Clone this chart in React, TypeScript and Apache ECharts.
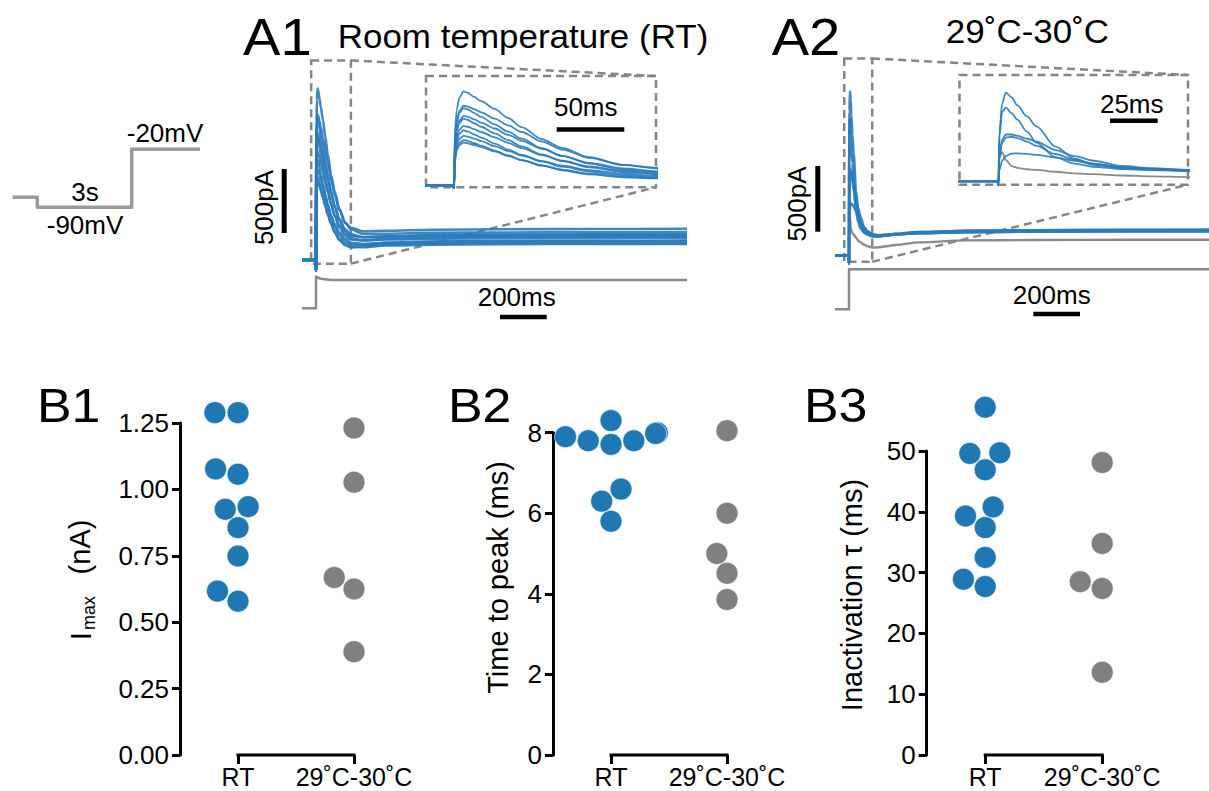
import React, { useEffect, useRef } from "react";
import * as echarts from "echarts";

// ------------------------- DATA -------------------------
const groups = ["RT", "29˚C-30˚C"];

// B panels (one value per cell)
const imaxRT = [1.289, 1.289, 1.077, 1.057, 0.925, 0.935, 0.856, 0.749, 0.617, 0.579];
const imaxWarm = [1.231, 1.027, 0.668, 0.625, 0.389];
const ttpRT = [7.9, 7.8, 8.3, 7.71, 7.8, 8.0, 7.98, 6.6, 6.3, 5.8];
const ttpWarm = [8.05, 6.0, 5.0, 4.51, 3.86];
const tauRT = [57.2, 49.6, 49.7, 46.9, 40.8, 39.3, 37.4, 32.5, 28.9, 27.7];
const tauWarm = [48.1, 34.8, 28.5, 27.4, 13.6];

// Current traces (pA) sampled at these times (ms, step onset = 0)
const traceTimeMs = [-60, -0.5, 0, 0.6, 2, 4, 7, 10, 15, 20, 30, 40, 50, 65, 80, 100, 125, 150, 200, 300, 500, 800, 1200, 1600];

const rtTraces = [
  [0, 0, -80, 740, 1080, 1250, 1340, 1320, 1260, 1200, 1090, 960, 830, 660, 535, 400, 290, 252, 225, 228, 236, 240, 242, 244],
  [0, 0, -80, 620, 920, 1060, 1135, 1125, 1085, 1040, 950, 855, 760, 625, 510, 390, 290, 240, 205, 205, 212, 215, 216, 218],
  [0, 0, -80, 600, 890, 1030, 1100, 1085, 1030, 975, 870, 765, 665, 530, 420, 310, 225, 190, 178, 185, 195, 198, 200, 200],
  [0, 0, -80, 540, 800, 925, 990, 980, 940, 895, 810, 720, 635, 520, 420, 320, 240, 200, 180, 182, 188, 190, 192, 192],
  [0, 0, -80, 520, 770, 890, 950, 935, 885, 835, 740, 645, 555, 440, 345, 255, 190, 160, 152, 165, 175, 180, 182, 182],
  [0, 0, -80, 470, 690, 795, 845, 835, 800, 760, 685, 605, 530, 430, 350, 270, 205, 170, 155, 160, 166, 170, 171, 172],
  [0, 0, -80, 430, 640, 740, 785, 770, 725, 680, 595, 510, 435, 340, 265, 195, 145, 120, 118, 135, 145, 150, 150, 152],
  [0, 0, -80, 390, 575, 665, 705, 695, 665, 630, 560, 490, 425, 345, 280, 215, 165, 135, 125, 135, 142, 145, 146, 146],
  [0, 0, -80, 360, 525, 605, 645, 635, 600, 565, 495, 425, 360, 280, 215, 155, 115, 100, 105, 120, 128, 130, 131, 131],
  [0, 0, -80, 340, 500, 575, 610, 600, 575, 545, 485, 420, 360, 285, 225, 165, 125, 102, 100, 113, 120, 124, 125, 126],
];

const warmTraces = [
  [0, 0, -60, 700, 1100, 1250, 1185, 1070, 915, 775, 490, 320, 232, 183, 165, 150, 150, 155, 165, 178, 188, 192, 195, 195],
  [0, 0, -60, 640, 980, 1040, 960, 870, 700, 545, 338, 250, 205, 172, 158, 145, 145, 150, 160, 172, 182, 186, 188, 188],
  [0, 0, -60, 380, 590, 660, 660, 640, 600, 560, 441, 355, 290, 216, 185, 160, 152, 155, 165, 178, 188, 192, 194, 195],
  [0, 0, -60, 340, 540, 615, 628, 610, 560, 500, 385, 305, 250, 197, 172, 150, 145, 150, 160, 170, 178, 182, 184, 184],
  [0, 0, -60, 160, 290, 360, 390, 395, 388, 372, 338, 290, 245, 197, 178, 162, 155, 157, 162, 170, 178, 182, 183, 184],
];
const warmGrayTrace = [0, 0, -60, 330, 415, 300, 215, 190, 170, 160, 135, 112, 100, 82, 70, 60, 62, 68, 80, 100, 115, 118, 120, 120];

// Voltage commands under the traces
const cmdTimeRT = [-60, 0, 0, 20, 65, 1600];
const cmdMvRT = [-90, -90, -12, -17, -20, -20];
const cmdTimeWarm = [-60, 0, 0, 1600];
const cmdMvWarm = [-90, -90, -20, -20];

// Protocol sketch (s, mV)
const protocolTimeS = [-0.78, 0, 0, 3, 3, 5.17];
const protocolMv = [-78, -78, -90, -90, -20, -20];

// ------------------------- STYLE / LAYOUT -------------------------
const FONT = "'Liberation Sans', Arial, Helvetica, sans-serif";
const DOT_BLUE = "#1f77b4";
const DOT_GRAY = "#808080";
const TRACE_BLUE = "#2a7bbb";
const TRACE_GRAY = "#8a8a8a";
const DASH = "#858585";

interface Geom { left: number; top: number; width: number; height: number; xMin: number; xMax: number; yMin: number; yMax: number; }

function traceGeom(o: { left: number; right: number; stepX: number; pxPerX: number; zeroY: number; pxPerY: number; yLo: number; yHi: number }): Geom {
  return {
    left: o.left, width: o.right - o.left,
    top: o.zeroY - o.yHi * o.pxPerY, height: (o.yHi - o.yLo) * o.pxPerY,
    xMin: (o.left - o.stepX) / o.pxPerX, xMax: (o.right - o.stepX) / o.pxPerX,
    yMin: o.yLo, yMax: o.yHi,
  };
}
function insetGeom(o: { left: number; top: number; right: number; bottom: number; stepX: number; pxPerX: number; zeroY: number; pxPerY: number }): Geom {
  return {
    left: o.left, top: o.top, width: o.right - o.left, height: o.bottom - o.top,
    xMin: (o.left - o.stepX) / o.pxPerX, xMax: (o.right - o.stepX) / o.pxPerX,
    yMin: (o.zeroY - o.bottom) / o.pxPerY, yMax: (o.zeroY - o.top) / o.pxPerY,
  };
}
function toPx(g: Geom, x: number, y: number): [number, number] {
  return [g.left + ((x - g.xMin) / (g.xMax - g.xMin)) * g.width, g.top + ((g.yMax - y) / (g.yMax - g.yMin)) * g.height];
}

const A1_PX_MS = 0.2335, A1_PX_PA = 0.128;
const A2_PX_MS = 0.2335, A2_PX_PA = 0.1314;
const A1_IN_PX_MS = 1.352, A2_IN_PX_MS = 1.907;

const gA1 = traceGeom({ left: 303, right: 685, stepX: 316, pxPerX: A1_PX_MS, zeroY: 260, pxPerY: A1_PX_PA, yLo: -120, yHi: 1450 });
const gA1in = insetGeom({ left: 426, top: 76, right: 656, bottom: 187.3, stepX: 454, pxPerX: A1_IN_PX_MS, zeroY: 185.3, pxPerY: 0.0701 });
const gA1cmd = traceGeom({ left: 303, right: 685, stepX: 316, pxPerX: A1_PX_MS, zeroY: 271.9, pxPerY: 0.404, yLo: -95, yHi: -8 });
const gA2 = traceGeom({ left: 836.7, right: 1209, stepX: 849, pxPerX: A2_PX_MS, zeroY: 255.5, pxPerY: A2_PX_PA, yLo: -120, yHi: 1450 });
const gA2in = insetGeom({ left: 959.5, top: 75, right: 1188, bottom: 184.7, stepX: 998.3, pxPerX: A2_IN_PX_MS, zeroY: 181.3, pxPerY: 0.0709 });
const gA2cmd = traceGeom({ left: 836.7, right: 1209, stepX: 849, pxPerX: A2_PX_MS, zeroY: 257.9, pxPerY: 0.5714, yLo: -95, yHi: -15 });
const gProto = traceGeom({ left: 12.7, right: 200, stepX: 37.3, pxPerX: 31.47, zeroY: 132.7, pxPerY: 0.8286, yLo: -95, yHi: -15 });

interface BPanel { left: number; top: number; width: number; height: number; yMax: number; interval: number; decimals: number; rt: number[]; warm: number[]; }
const bPanels: BPanel[] = [
  { left: 180, top: 423, width: 232, height: 332, yMax: 1.25, interval: 0.25, decimals: 2, rt: imaxRT, warm: imaxWarm },
  { left: 553, top: 432.7, width: 232, height: 322.3, yMax: 8, interval: 2, decimals: 0, rt: ttpRT, warm: ttpWarm },
  { left: 926.7, top: 451, width: 234, height: 304, yMax: 50, interval: 10, decimals: 0, rt: tauRT, warm: tauWarm },
];
const DOT = 22;

// seaborn-like beeswarm, in pixels; returns offsets (px)
function beeswarm(values: number[], pxPerUnit: number, d: number): number[] {
  const order = values.map((_, i) => i).sort((a, b) => values[a] - values[b]);
  const placed: { x: number; y: number }[] = [];
  const out = new Array(values.length).fill(0);
  for (const i of order) {
    const y = values[i] * pxPerUnit;
    const neighbors = placed.filter((p) => y - p.y < d);
    const cands: number[] = [0];
    let leftFirst = true;
    for (const n of neighbors) {
      const dy = y - n.y;
      const dx = Math.sqrt(Math.max(d * d - dy * dy, 0)) * 1.05;
      if (leftFirst) cands.push(n.x - dx, n.x + dx);
      else cands.push(n.x + dx, n.x - dx);
      leftFirst = !leftFirst;
    }
    const sorted = cands.map((c, k) => ({ c, k })).sort((a, b) => Math.abs(a.c) - Math.abs(b.c) || a.k - b.k);
    let chosen = sorted[sorted.length - 1].c;
    for (const { c } of sorted) {
      if (neighbors.every((n) => (c - n.x) ** 2 + (y - n.y) ** 2 >= d * d - 1e-6)) { chosen = c; break; }
    }
    placed.push({ x: chosen, y });
    out[i] = chosen;
  }
  return out;
}

function buildOption() {
  const grid: any[] = [];
  const xAxis: any[] = [];
  const yAxis: any[] = [];
  const series: any[] = [];

  const addTraceGrid = (g: Geom) => {
    const idx = grid.length;
    grid.push({ left: g.left, top: g.top, width: g.width, height: g.height, containLabel: false, outerBoundsMode: "none" });
    xAxis.push({ gridIndex: idx, type: "value", min: g.xMin, max: g.xMax, show: false });
    yAxis.push({ gridIndex: idx, type: "value", min: g.yMin, max: g.yMax, show: false });
    return idx;
  };
  const addLine = (idx: number, xs: number[], ys: number[], color: string, width: number, opacity = 1, smooth: number | boolean = false) => {
    series.push({
      type: "line", xAxisIndex: idx, yAxisIndex: idx, silent: true,
      data: xs.map((x, k) => [x, ys[k]]), symbol: "none", showSymbol: false,
      smooth, smoothMonotone: "x", clip: true, z: 2,
      lineStyle: { color, width, opacity, cap: "butt", join: "round" },
    });
  };

  // protocol
  const iP = addTraceGrid(gProto);
  addLine(iP, protocolTimeS, protocolMv, "#9a9a9a", 3.5);

  // A1
  const iA1 = addTraceGrid(gA1);
  rtTraces.forEach((tr) => addLine(iA1, traceTimeMs, tr, TRACE_BLUE, 2.6, 0.9, 0.3));
  const iA1c = addTraceGrid(gA1cmd);
  addLine(iA1c, cmdTimeRT, cmdMvRT, TRACE_GRAY, 2.5);
  const iA1i = addTraceGrid(gA1in);
  rtTraces.forEach((tr) => addLine(iA1i, traceTimeMs, tr, TRACE_BLUE, 1.8, 0.9, 0.3));

  // A2
  const iA2 = addTraceGrid(gA2);
  addLine(iA2, traceTimeMs, warmGrayTrace, TRACE_GRAY, 2.4, 1, 0.3);
  warmTraces.forEach((tr) => addLine(iA2, traceTimeMs, tr, TRACE_BLUE, 2.6, 0.9, 0.3));
  const iA2c = addTraceGrid(gA2cmd);
  addLine(iA2c, cmdTimeWarm, cmdMvWarm, TRACE_GRAY, 2.5);
  const iA2i = addTraceGrid(gA2in);
  addLine(iA2i, traceTimeMs, warmGrayTrace, TRACE_GRAY, 1.8, 1, 0.3);
  warmTraces.forEach((tr) => addLine(iA2i, traceTimeMs, tr, TRACE_BLUE, 1.8, 0.9, 0.3));

  // B panels
  const catIdx = groups.map((_, i) => i);
  bPanels.forEach((p) => {
    const idx = grid.length;
    grid.push({ left: p.left, top: p.top, width: p.width, height: p.height, containLabel: false, outerBoundsMode: "none" });
    xAxis.push({
      gridIndex: idx, type: "value", min: -0.5, max: groups.length - 0.5,
      axisLine: { show: false, onZero: false },
      axisTick: { show: true, customValues: catIdx, length: 9, lineStyle: { color: "#000", width: 3 } },
      axisLabel: {
        show: true, customValues: catIdx, margin: 12, lineHeight: 20, color: "#000", fontSize: 25, fontFamily: FONT,
        formatter: (v: number) => (Number.isInteger(v) && groups[v] !== undefined ? groups[v] : ""),
      },
      splitLine: { show: false },
    });
    yAxis.push({
      gridIndex: idx, type: "value", min: 0, max: p.yMax, interval: p.interval,
      axisLine: { show: true, onZero: false, lineStyle: { color: "#000", width: 3 } },
      axisTick: { show: true, length: 8, lineStyle: { color: "#000", width: 3 } },
      axisLabel: { color: "#000", fontSize: 26, fontFamily: FONT, margin: 11, formatter: (v: number) => v.toFixed(p.decimals) },
      splitLine: { show: false },
    });
    const pxPerUnitY = p.height / p.yMax;
    const pxPerUnitX = p.width / groups.length;
    const half = 0.4;
    [p.rt, p.warm].forEach((vals, g) => {
      const offs = beeswarm(vals, pxPerUnitY, DOT);
      series.push({
        type: "scatter", xAxisIndex: idx, yAxisIndex: idx, silent: true, clip: false, z: 3,
        symbol: "circle", symbolSize: DOT,
        itemStyle: { color: g === 0 ? DOT_BLUE : DOT_GRAY, borderColor: "#ffffff", borderWidth: 0.6, opacity: 1 },
        data: vals.map((v, k) => [g + Math.max(-half, Math.min(half, offs[k] / pxPerUnitX)), v]),
      });
    });
    // bracket between categories
    series.push({
      type: "line", xAxisIndex: idx, yAxisIndex: idx, silent: true, clip: false, z: 2,
      data: catIdx.map((i) => [i, 0]), symbol: "none",
      lineStyle: { color: "#000", width: 3, cap: "square" },
    });
  });

  // ---------------- graphic annotations ----------------
  const gfx: any[] = [];
  const text = (t: string, x: number, y: number, size: number, opt: { align?: string; rotate?: boolean; sx?: number } = {}) => {
    const s = opt.sx ?? 1;
    gfx.push({
      type: "text", x, y, z: 20, silent: true,
      rotation: opt.rotate ? Math.PI / 2 : 0,
      scaleX: opt.rotate ? 1 : s, scaleY: opt.rotate ? s : 1,
      style: {
        text: t, fill: "#000", font: `${size}px ${FONT}`,
        align: opt.align ?? "center", verticalAlign: "middle",
        textAlign: opt.align ?? "center", textVerticalAlign: "middle",
      },
    });
  };
  const bar = (x: number, y: number, w: number, h: number) =>
    gfx.push({ type: "rect", z: 20, silent: true, shape: { x, y, width: w, height: h }, style: { fill: "#000" } });
  const dashLine = (x1: number, y1: number, x2: number, y2: number) =>
    gfx.push({ type: "line", z: 1, silent: true, shape: { x1, y1, x2, y2 }, style: { stroke: DASH, lineWidth: 2.5, lineDash: [8, 5] } });
  const dashRect = (x: number, y: number, w: number, h: number) =>
    gfx.push({ type: "rect", z: 1, silent: true, shape: { x, y, width: w, height: h }, style: { fill: "none", stroke: DASH, lineWidth: 2.5, lineDash: [8, 5] } });

  // zoom boxes + connectors
  const zoomDecor = (main: Geom, inset: Geom) => {
    const [bx1, by1] = toPx(main, inset.xMin, inset.yMax);
    const [bx2, by2] = toPx(main, inset.xMax, inset.yMin);
    dashRect(bx1, by1, bx2 - bx1, by2 - by1);
    dashRect(inset.left, inset.top, inset.width, inset.height);
    dashLine(bx2, by1, inset.left + inset.width, inset.top);
    dashLine(bx2, by2, inset.left + inset.width, inset.top + inset.height);
  };
  zoomDecor(gA1, gA1in);
  zoomDecor(gA2, gA2in);

  // scale bars
  bar(281.7, 169, 5, 500 * A1_PX_PA);
  bar(500, 314.8, 200 * A1_PX_MS, 4.5);
  bar(556.7, 127.2, 50 * A1_IN_PX_MS, 4.6);
  bar(815.3, 166, 5, 500 * A2_PX_PA);
  bar(1033.3, 311.8, 200 * A2_PX_MS, 4.5);
  bar(1110, 118.5, 25 * A2_IN_PX_MS, 4.6);

  text("500pA", 264, 207.5, 26, { rotate: true });
  text("200ms", 516.7, 297.3, 26);
  text("50ms", 585.7, 106.7, 26);
  text("500pA", 797, 204, 26, { rotate: true });
  text("200ms", 1051.7, 295, 26);
  text("25ms", 1131.7, 104.2, 26);

  // protocol labels
  text("-20mV", 165, 133, 26);
  text("3s", 85, 191.7, 26);
  text("-90mV", 85, 225, 26);

  // titles & panel letters
  text("A1", 243, 36.7, 51, { align: "left", sx: 1.1 });
  text("Room temperature (RT)", 523, 36.7, 33, { sx: 1.06 });
  text("A2", 771.7, 36.7, 51, { align: "left", sx: 1.1 });
  text("29˚C-30˚C", 1027.5, 31.3, 33, { sx: 1.06 });
  text("B1", 37, 406, 48, { align: "left", sx: 1.08 });
  text("B2", 448, 406, 48, { align: "left", sx: 1.08 });
  text("B3", 804, 406, 48, { align: "left", sx: 1.08 });

  // y-axis names
  text("I", 80, 636, 30, { rotate: true });
  text("max", 88.5, 613, 18, { rotate: true });
  text("(nA)", 80, 547, 29, { rotate: true });
  text("Time to peak (ms)", 498, 577.5, 29, { rotate: true });
  text("Inactivation τ (ms)", 852, 595, 29, { rotate: true });

  return {
    animation: false,
    backgroundColor: "#ffffff",
    textStyle: { fontFamily: FONT },
    grid, xAxis, yAxis, series,
    graphic: { elements: gfx },
  };
}

export default function App() {
  const ref = useRef<HTMLDivElement>(null);
  useEffect(() => {
    if (!ref.current) return;
    const chart = echarts.init(ref.current, undefined, { renderer: "svg" });
    chart.setOption(buildOption() as any);
    return () => chart.dispose();
  }, []);
  return <div ref={ref} style={{ position: "fixed", left: 0, top: 0, width: 1209, height: 791, background: "#fff" }} />;
}
